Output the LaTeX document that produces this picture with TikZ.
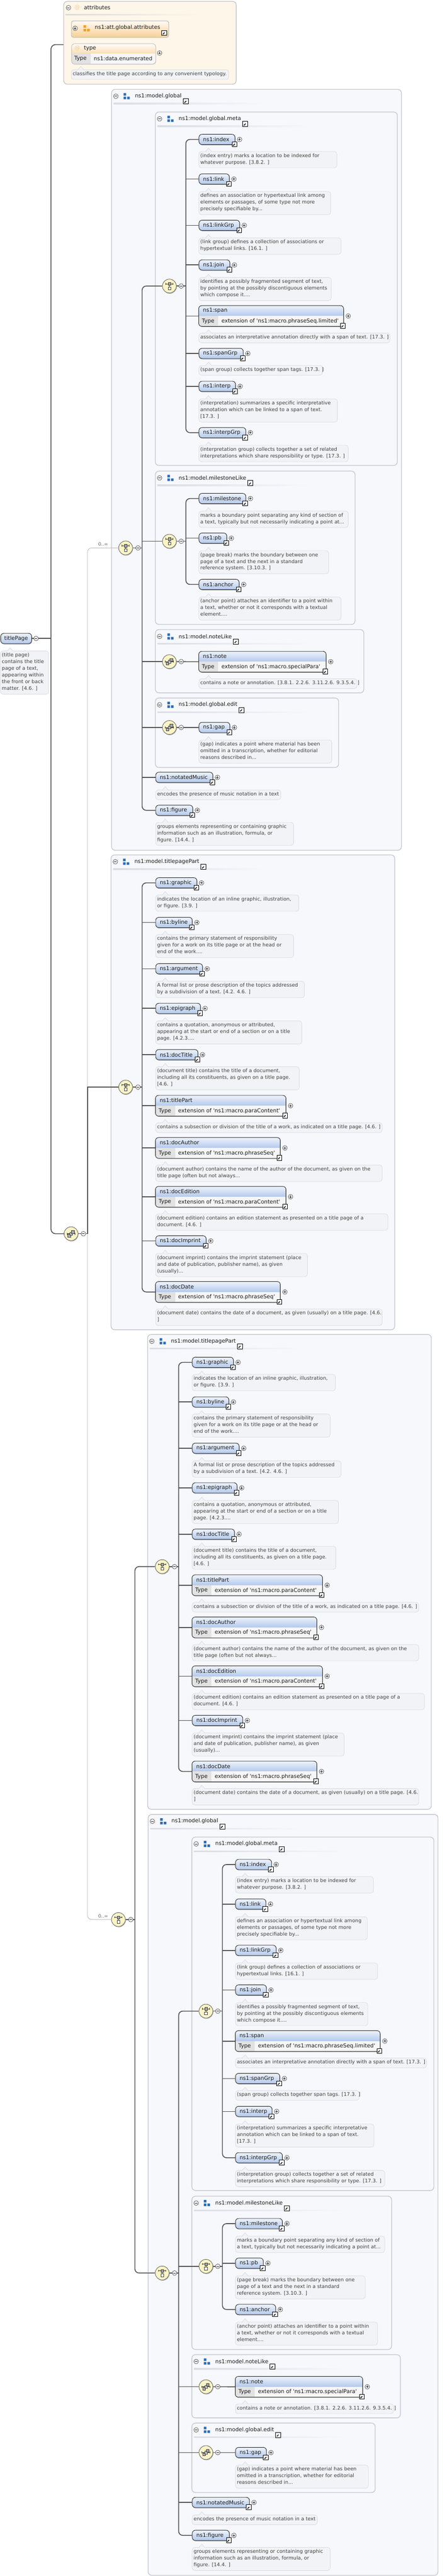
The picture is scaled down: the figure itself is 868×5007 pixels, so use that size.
\documentclass[tikz,border=0pt]{standalone}
\usepackage{fontspec}
\setmainfont{DejaVu Sans}
\usetikzlibrary{calc,shadows}
\pgfdeclarelayer{boxes}
\pgfdeclarelayer{lines}
\pgfsetlayers{boxes,lines,main}

\definecolor{lnk}{HTML}{505050}
\definecolor{optl}{HTML}{B9B9B9}
\definecolor{elTop}{HTML}{EEF3FC}
\definecolor{elBot}{HTML}{B3C9EC}
\definecolor{grpFill}{HTML}{F6F8FC}
\definecolor{grpLine}{HTML}{C6C9CE}
\definecolor{sepC}{HTML}{DADDE2}
\definecolor{dFill}{HTML}{F2F3F6}
\definecolor{dLine}{HTML}{D8DADF}
\definecolor{dText}{HTML}{404040}
\definecolor{cmpFill}{HTML}{FBF4C6}
\definecolor{icoBlue}{HTML}{2C6BB5}
\definecolor{icoOr}{HTML}{F0A227}
\definecolor{attFill}{HTML}{FDF6E9}
\definecolor{tyCell}{HTML}{E2E2E2}
\definecolor{tyVal}{HTML}{F6F6F6}

\tikzset{
  conn/.style={draw=lnk, line width=1.6pt},
  optconn/.style={draw=optl, line width=0.9pt},
  shd/.style={drop shadow={shadow xshift=1pt, shadow yshift=-1.5pt, fill=black!55, opacity=0.45}},
  elem/.style={rectangle, rounded corners=6pt, draw=black!85, line width=0.9pt, top color=elTop, bottom color=elBot, minimum height=20pt, inner xsep=8pt, inner ysep=0pt, anchor=west, align=left, text=black!90, font=\fontsize{10.5}{12}\selectfont, shd},
  tybox/.style={rectangle, rounded corners=6pt, fill=white, inner sep=0pt, shd},
  lbl/.style={inner sep=0pt, text=black!90, font=\fontsize{10.5}{12}\selectfont},
  descbox/.style={rectangle, rounded corners=5pt, fill=dFill, draw=dLine, line width=0.7pt, inner sep=0pt},
  desctext/.style={inner sep=0pt, align=left, text=dText, font=\fontsize{9.65}{13}\selectfont},
  grpbox/.style={rectangle, rounded corners=7pt, fill=grpFill, draw=grpLine, line width=1.4pt, inner sep=0pt},
  attbox/.style={rectangle, rounded corners=7pt, fill=attFill, draw=black!22, line width=1.4pt, inner sep=0pt},
  attglob/.style={rectangle, rounded corners=4pt, top color=white!60!orange!10, bottom color=icoOr!50, draw=black!22, line width=1.4pt, inner sep=0pt},
  attrnode/.style={rectangle, rounded corners=6pt, fill=white, inner sep=0pt, drop shadow={shadow xshift=1pt, shadow yshift=-1.5pt, fill=black!30, opacity=0.4}},
  card/.style={inner sep=0pt, text=black!60, font=\fontsize{9}{10}\selectfont},
  minusc/.style={circle, minimum size=9pt, inner sep=0pt, draw=black!80, line width=0.6pt, fill=white,
    path picture={\draw[line width=0.7pt,black!85] ([xshift=-2.6pt]path picture bounding box.center) -- ([xshift=2.6pt]path picture bounding box.center);}},
  plusc/.style={circle, minimum size=9pt, inner sep=0pt, draw=black!80, line width=0.6pt, fill=white,
    path picture={\draw[line width=0.7pt,black!85] ([xshift=-2.6pt]path picture bounding box.center) -- ([xshift=2.6pt]path picture bounding box.center) ([yshift=-2.6pt]path picture bounding box.center) -- ([yshift=2.6pt]path picture bounding box.center);}},
  linkic/.style={rectangle, minimum size=9.5pt, inner sep=0pt, draw=black, line width=1pt, fill=white,
    path picture={\begin{scope}[shift={(path picture bounding box.center)}]\draw[line width=1.4pt] (-2.8pt,-2.8pt)--(1pt,1pt); \fill (3.4pt,3.4pt)--(-1.6pt,3.4pt)--(3.4pt,-1.6pt)--cycle;\end{scope}}},
  cmp/.style={circle, minimum size=27pt, inner sep=0pt, draw=black!65, line width=0.8pt, fill=cmpFill, shd},
  cmpch/.style={cmp, path picture={\begin{scope}[shift={(path picture bounding box.center)}]
      \draw[black!75,line width=.6pt] (-7pt,4.3pt)--(7pt,4.3pt) (-7pt,2.5pt)--(-7pt,6.1pt) (7pt,2.5pt)--(7pt,6.1pt) (0pt,1.5pt)--(0pt,-1.5pt);
      \draw[black!75,fill=black!35,line width=.5pt] (-2.7pt,1.6pt) rectangle (2.7pt,7pt);
      \draw[black!75,fill=white,line width=.6pt] (-2.7pt,-1.6pt) rectangle (2.7pt,-7pt);
    \end{scope}}},
  cmpseq/.style={cmp, path picture={\begin{scope}[shift={(path picture bounding box.center)}]
      \draw[black!75,line width=.6pt] (-8pt,0pt)--(8pt,0pt) (-8pt,-2pt)--(-8pt,2pt) (8pt,-2pt)--(8pt,2pt);
      \draw[black!75,fill=black!30,line width=.5pt] (-6.3pt,-6.3pt) rectangle (-0.9pt,-0.9pt);
      \draw[black!75,fill=black!20,line width=.5pt] (-2.7pt,-2.7pt) rectangle (2.7pt,2.7pt);
      \draw[black!75,fill=black!35,line width=.5pt] (0.9pt,0.9pt) rectangle (6.3pt,6.3pt);
    \end{scope}}},
  grpicon/.style={rectangle, minimum size=12pt, inner sep=0pt,
    path picture={\begin{scope}[shift={(path picture bounding box.center)}]\fill[#1] (-6pt,1pt) rectangle (-1pt,6pt) (-6pt,-6pt) rectangle (-1pt,-1pt) (1pt,-6pt) rectangle (6pt,-1pt);\end{scope}}},
  grpicon/.default=icoBlue,
}

% simple element: name, x, y(center), width, label
\newcommand\El[5]{%
  \pgfmathsetmacro\elw{#4-16}%
  \node[elem, text width=\elw pt] (#1) at (#2,#3) {#5};
  \node[plusc] (#1p) at ($(#1.east)+(8.5,0)$) {};
  \node[linkic] (#1k) at ($(#1.south east)+(-1.5,-1)$) {};
}
% typed element: name, x, ytop, width, label, type
\newcommand\Ty[6]{%
  \pgfmathsetmacro\tyw{#4}%
  \node[tybox, minimum width=\tyw pt, minimum height=40pt, anchor=north west] (#1) at (#2,#3) {};
  \begin{scope}
    \clip[rounded corners=6pt] (#1.south west) rectangle (#1.north east);
    \shade[top color=elTop, bottom color=elBot] (#1.north west) rectangle (#1.east);
    \fill[tyCell] (#1.west) rectangle ($(#1.south west)+(38,0)$);
    \fill[tyVal] ($(#1.west)+(38,0)$) rectangle (#1.south east);
  \end{scope}
  \draw[black!85, line width=0.9pt, rounded corners=6pt] (#1.south west) rectangle (#1.north east);
  \node[lbl, anchor=west] (#1n) at ($(#1.north west)+(8,10)$) {#5};
  \node[lbl, anchor=west] (#1t) at ($(#1.south west)+(6,-10)$) {Type};
  \node[lbl, anchor=west] (#1v) at ($(#1.south west)+(44,-10)$) {#6};
  \node[plusc] (#1p) at ($(#1.east)+(9,0)$) {};
  \node[linkic] (#1k) at ($(#1.south east)+(-1.5,-1)$) {};
}
% description: name, x, ytop, width, lines, text
\newcommand\De[6]{%
  \pgfmathsetmacro\deh{13*#5+6}%
  \node[descbox, minimum width=#4pt, minimum height=\deh pt, anchor=north west] (#1) at (#2,#3) {};
  \path[fill=dFill, draw=dLine, line width=0.7pt] ($(#1.north west)+(13,0.8)$) -- ($(#1.north west)+(19,-6)$) -- ($(#1.north west)+(25,0.8)$);
  \node[desctext, anchor=north west] (#1t) at ($(#1.north west)+(3,4)$) {#6};
}
% group box: name, x1, y1, x2, y2, title
\newcommand\Gb[6]{%
  \pgfmathsetmacro\gbw{#4-#2}\pgfmathsetmacro\gbh{#5-#3}%
  \node[grpbox, minimum width=\gbw pt, minimum height=\gbh pt, anchor=north west] (#1) at (#2,#3) {};
  \shade[left color=sepC, middle color=sepC, right color=grpFill] ($(#1.north west)+(5,27)$) rectangle ($(#1.north west)+(300,29.5)$);
  \node[minusc] (#1m) at ($(#1.north west)+(9,14)$) {};
  \node[grpicon] (#1i) at ($(#1.north west)+(30,14)$) {};
  \node[lbl, anchor=west] (#1n) at ($(#1.north west)+(46,14)$) {#6};
  \node[linkic, minimum size=10pt] (#1k) at ($(#1n.east)+(8,10)$) {};
}

\newcommand\GlobalBody[1]{%
  \begin{pgfonlayer}{boxes}
    \Gb{#1box}{216}{173}{779}{1652}{ns1:model.global}
    \Gb{#1metabox}{301}{217}{771}{904}{ns1:model.global.meta}
    \Gb{#1mlbox}{301}{915}{689}{1213}{ns1:model.milestoneLike}
    \Gb{#1nlbox}{301}{1223}{706}{1346}{ns1:model.noteLike}
    \Gb{#1edbox}{301}{1356}{657}{1491}{ns1:model.global.edit}
  \end{pgfonlayer}
  \node[cmpch] (#1ch) at (244,1065) {};
  \node[minusc] (#1chm) at (268,1065) {};
  \coordinate (#1br) at (276,1065);
  \node[cmpch] (#1mch) at (329,556) {};
  \node[minusc] (#1mchm) at (352,556) {};
  \coordinate (#1mbr) at (361,556);
  \El{#1index}{386}{271}{70}{ns1:index}
  \De{#1indexd}{386}{294}{268}{2}{(index entry) marks a location to be indexed for\\whatever purpose. [3.8.2. ]}
  \El{#1link}{386}{348}{59}{ns1:link}
  \De{#1linkd}{386}{372}{256}{3}{defines an association or hypertextual link among\\elements or passages, of some type not more\\precisely specifiable by...}
  \El{#1linkGrp}{386}{438}{79}{ns1:linkGrp}
  \De{#1linkGrpd}{386}{462}{276}{2}{(link group) defines a collection of associations or\\hypertextual links. [16.1. ]}
  \El{#1join}{386}{515}{60}{ns1:join}
  \De{#1joind}{386}{539}{257}{3}{identifies a possibly fragmented segment of text,\\by pointing at the possibly discontiguous elements\\which compose it....}
  \Ty{#1span}{386}{594}{281}{ns1:span}{extension of \textquotesingle ns1:macro.phraseSeq.limited\textquotesingle}
  \De{#1spand}{386}{647}{371}{1}{associates an interpretative annotation directly with a span of text. [17.3. ]}
  \El{#1spanGrp}{386}{687}{86}{ns1:spanGrp}
  \De{#1spanGrpd}{386}{710}{240}{1}{(span group) collects together span tags. [17.3. ]}
  \El{#1interp}{386}{751}{71}{ns1:interp}
  \De{#1interpd}{386}{775}{269}{3}{(interpretation) summarizes a specific interpretative\\annotation which can be linked to a span of text.\\{}[17.3. ]}
  \El{#1interpGrp}{386}{841}{91}{ns1:interpGrp}
  \De{#1interpGrpd}{386}{865}{290}{2}{(interpretation group) collects together a set of related\\interpretations which share responsibility or type. [17.3. ]}
  \node[cmpch] (#1lch) at (329,1052) {};
  \node[minusc] (#1lchm) at (352,1052) {};
  \coordinate (#1lbr) at (361,1052);
  \El{#1milestone}{386}{969}{91}{ns1:milestone}
  \De{#1milestoned}{386}{993}{290}{2}{marks a boundary point separating any kind of section of\\a text, typically but not necessarily indicating a point at...}
  \El{#1pb}{386}{1046}{54}{ns1:pb}
  \De{#1pbd}{386}{1070}{252}{3}{(page break) marks the boundary between one\\page of a text and the next in a standard\\reference system. [3.10.3. ]}
  \El{#1anchor}{386}{1136}{78}{ns1:anchor}
  \De{#1anchord}{386}{1160}{276}{3}{(anchor point) attaches an identifier to a point within\\a text, whether or not it corresponds with a textual\\element....}
  \node[cmpseq] (#1nseq) at (329,1286) {};
  \node[minusc] (#1nseqm) at (352,1286) {};
  \Ty{#1note}{386}{1266}{247}{ns1:note}{extension of \textquotesingle ns1:macro.specialPara\textquotesingle}
  \De{#1noted}{386}{1319}{307}{1}{contains a note or annotation. [3.8.1. 2.2.6. 3.11.2.6. 9.3.5.4. ]}
  \node[cmpseq] (#1eseq) at (329,1414) {};
  \node[minusc] (#1eseqm) at (352,1414) {};
  \El{#1gap}{386}{1414}{60}{ns1:gap}
  \De{#1gapd}{386}{1438}{258}{3}{(gap) indicates a point where material has been\\omitted in a transcription, whether for editorial\\reasons described in...}
  \El{#1notatedMusic}{302}{1511}{111}{ns1:notatedMusic}
  \De{#1notatedMusicd}{302}{1535}{243}{1}{encodes the presence of music notation in a text}
  \El{#1figure}{302}{1575}{72}{ns1:figure}
  \De{#1figured}{302}{1598}{268}{3}{groups elements representing or containing graphic\\information such as an illustration, formula, or\\figure. [14.4. ]}
  \begin{pgfonlayer}{lines}
    \draw[conn] (#1ch.east) -- (#1br);
    \draw[conn, rounded corners=8pt] (#1mch.west) -| (#1br) |- (#1figure.west);
    \draw[conn] (#1lch.west) -- (#1lch.west -| #1br);
    \draw[conn] (#1nseq.west) -- (#1nseq.west -| #1br);
    \draw[conn] (#1eseq.west) -- (#1eseq.west -| #1br);
    \draw[conn] (#1notatedMusic.west) -- (#1notatedMusic.west -| #1br);
    \draw[conn] (#1mch.east) -- (#1mbr);
    \draw[conn, rounded corners=8pt] (#1index.west) -| (#1mbr) |- (#1interpGrp.west);
    \foreach \q in {link,linkGrp,join,span,spanGrp,interp} {\draw[conn] (#1\q.west) -- (#1\q.west -| #1mbr);}
    \draw[conn] (#1lch.east) -- (#1lbr);
    \draw[conn, rounded corners=8pt] (#1milestone.west) -| (#1lbr) |- (#1anchor.west);
    \draw[conn] (#1pb.west) -- (#1pb.west -| #1lbr);
    \draw[conn] (#1nseq.east) -- (#1note.west);
    \draw[conn] (#1eseq.east) -- (#1gap.west);
  \end{pgfonlayer}
}

\newcommand\TppBody[1]{%
  \begin{pgfonlayer}{boxes}
    \Gb{#1box}{215}{1661}{766}{2584}{ns1:model.titlepagePart}
  \end{pgfonlayer}
  \node[cmpch] (#1ch) at (244,2113) {};
  \node[minusc] (#1chm) at (268,2113) {};
  \coordinate (#1br) at (276,2113);
  \El{#1graphic}{302}{1716}{80}{ns1:graphic}
  \De{#1graphicd}{302}{1739}{278}{2}{indicates the location of an inline graphic, illustration,\\or figure. [3.9. ]}
  \El{#1byline}{302}{1793}{71}{ns1:byline}
  \De{#1bylined}{302}{1816}{268}{3}{contains the primary statement of responsibility\\given for a work on its title page or at the head or\\end of the work....}
  \El{#1argument}{302}{1883}{91}{ns1:argument}
  \De{#1argumentd}{302}{1907}{289}{2}{A formal list or prose description of the topics addressed\\by a subdivision of a text. [4.2. 4.6. ]}
  \El{#1epigraph}{302}{1960}{87}{ns1:epigraph}
  \De{#1epigraphd}{302}{1984}{284}{3}{contains a quotation, anonymous or attributed,\\appearing at the start or end of a section or on a title\\page. [4.2.3....}
  \El{#1docTitle}{302}{2050}{82}{ns1:docTitle}
  \De{#1docTitled}{302}{2073}{279}{3}{(document title) contains the title of a document,\\including all its constituents, as given on a title page.\\{}[4.6. ]}
  \Ty{#1titlePart}{302}{2129}{253}{ns1:titlePart}{extension of \textquotesingle ns1:macro.paraContent\textquotesingle}
  \De{#1titlePartd}{302}{2182}{440}{1}{contains a subsection or division of the title of a work, as indicated on a title page. [4.6. ]}
  \Ty{#1docAuthor}{302}{2211}{242}{ns1:docAuthor}{extension of \textquotesingle ns1:macro.phraseSeq\textquotesingle}
  \De{#1docAuthord}{302}{2264}{440}{2}{(document author) contains the name of the author of the document, as given on the\\title page (often but not always...}
  \Ty{#1docEdition}{302}{2306}{253}{ns1:docEdition}{extension of \textquotesingle ns1:macro.paraContent\textquotesingle}
  \De{#1docEditiond}{302}{2359}{451}{2}{(document edition) contains an edition statement as presented on a title page of a\\document. [4.6. ]}
  \El{#1docImprint}{302}{2412}{98}{ns1:docImprint}
  \De{#1docImprintd}{302}{2436}{295}{3}{(document imprint) contains the imprint statement (place\\and date of publication, publisher name), as given\\(usually)...}
  \Ty{#1docDate}{302}{2491}{242}{ns1:docDate}{extension of \textquotesingle ns1:macro.phraseSeq\textquotesingle}
  \De{#1docDated}{302}{2544}{440}{2}{(document date) contains the date of a document, as given (usually) on a title page. [4.6.\\]}
  \begin{pgfonlayer}{lines}
    \draw[conn] (#1ch.east) -- (#1br);
    \draw[conn, rounded corners=8pt] (#1graphic.west) -| (#1br) |- (#1docDate.west);
    \foreach \q in {byline,argument,epigraph,docTitle,titlePart,docAuthor,docEdition,docImprint} {\draw[conn] (#1\q.west) -- (#1\q.west -| #1br);}
  \end{pgfonlayer}
}

\begin{document}
\begin{tikzpicture}[x=1pt, y=-1pt]
\useasboundingbox (0,0) rectangle (868,5007);
\begin{pgfonlayer}{boxes}
  \fill[white] (0,0) rectangle (868,5007);
  \node[attbox, minimum width=335pt, minimum height=161pt, anchor=north west] (attrs) at (123,2) {};
  \shade[left color=black!14, middle color=black!14, right color=attFill] (127,28) rectangle (385,30);
\end{pgfonlayer}

% attributes
\node[minusc] (attrsm) at (133,15) {};
\node[lbl, text=icoOr!55] (attrsa) at (150,15) {@};
\node[lbl, anchor=west] (attrsn) at (163,15) {attributes};
\node[attglob, minimum width=189pt, minimum height=32pt, anchor=north west] (attglob) at (138,40) {};
\node[plusc] (attglobp) at (146,55) {};
\node[grpicon=icoOr] (attglobi) at (168,55) {};
\node[lbl, anchor=west] (attglobn) at (184,54) {ns1:att.global.attributes};
\node[linkic] (attglobk) at (319,64) {};
\node[attrnode, minimum width=163pt, minimum height=39pt, anchor=north west] (typeattr) at (139,85) {};
\begin{scope}
  \clip[rounded corners=6pt] (typeattr.south west) rectangle (typeattr.north east);
  \shade[top color=white!70!icoOr!8, bottom color=icoOr!35] (typeattr.north west) rectangle ($(typeattr.north east)+(0,19)$);
  \fill[tyCell] ($(typeattr.north west)+(0,19)$) rectangle ($(typeattr.south west)+(37,0)$);
  \fill[tyVal] ($(typeattr.north west)+(37,19)$) rectangle (typeattr.south east);
\end{scope}
\draw[black!25, line width=0.9pt, rounded corners=6pt] (typeattr.south west) rectangle (typeattr.north east);
\node[lbl, text=icoOr!55] (typeattra) at (150,94) {@};
\node[lbl, anchor=west] (typeattrn) at (163,94) {type};
\node[lbl, anchor=west] (typeattrt) at (144,114) {Type};
\node[lbl, anchor=west] (typeattrv) at (182,114) {ns1:data.enumerated};
\node[plusc] (typeattrp) at (310,103) {};
\De{typeattrd}{138}{135}{306}{1}{classifies the title page according to any convenient typology.}

% root element
\node[elem, text width=46pt, inner xsep=7pt] (tp) at (1,1241) {titlePage};
\node[minusc] (tpm) at (70,1241) {};
\coordinate (tpbr) at (99,1241);
\De{tpd}{0.5}{1265}{94}{6}{(title page)\\contains the title\\page of a text,\\appearing within\\the front or back\\matter. [4.6. ]}

% sequence compositor
\node[cmpseq] (sq) at (138,2398) {};
\node[minusc] (sqm) at (162,2398) {};
\coordinate (sqbr) at (170,2398);
\coordinate (sqT) at (170,2113);

% groups
\GlobalBody{ga}
\TppBody{ta}
\begin{scope}[shift={(71,932)}]
  \TppBody{tb}
\end{scope}
\begin{scope}[shift={(71,3353)}]
  \GlobalBody{gb}
\end{scope}

% second choice 0..inf
\node[cmpch] (c2) at (230,3731) {};
\node[minusc] (c2m) at (254,3731) {};
\coordinate (c2br) at (262,3731);

\node[card, anchor=east] (carda) at (210,1058) {0..∞};
\node[card, anchor=east] (cardb) at (210,3724) {0..∞};

\begin{pgfonlayer}{lines}
  \draw[conn, rounded corners=9pt] ([yshift=-3.5pt]attrs.west) -| (tpbr) |- (sq.west);
  \draw[conn] (tp.east) -- (tpbr);
  \draw[conn] (sq.east) -- (sqbr);
  \draw[optconn, rounded corners=8pt] (gach.west) -| (sqT);
  \draw[conn] (tach.west) -- (sqT) -- (sqbr);
  \draw[optconn, rounded corners=8pt] (sqbr) |- (c2.west);
  \draw[conn] (c2.east) -- (c2br);
  \draw[conn, rounded corners=8pt] (tbch.west) -| (c2br) |- (gbch.west);
\end{pgfonlayer}
\end{tikzpicture}
\end{document}
